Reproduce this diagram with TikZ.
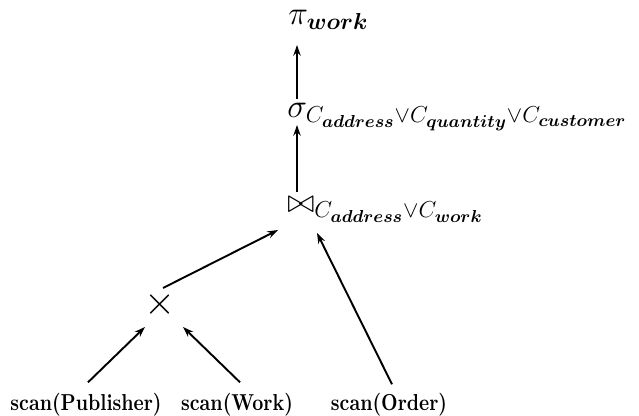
\documentclass[tikz,border=0pt]{standalone}
\usepackage{graphicx}
\usepackage{mathtools}
\usepackage{amssymb}
\usepackage{bm}
\usetikzlibrary{arrows.meta}
% math sizes used by the operator labels
\DeclareMathSizes{17.28}{17.28}{12}{9}
% attribute names in subscripts are set in bold italic
\newcommand{\attr}[1]{\bm{#1}}
% relation scans: bold, slightly tall lettering
\newcommand{\scanlabel}[1]{\scalebox{1}[1.2]{\bfseries #1}}
\begin{document}
\begin{tikzpicture}[x=0.52pt,y=-0.52pt,
  arr/.style={-{Stealth[length=5.5pt,width=3.8pt]}, line width=1pt},
  op/.style={inner sep=0pt, anchor=base west, font=\LARGE},
  leaf/.style={inner sep=0pt, anchor=base, font=\bfseries}]
\useasboundingbox (0,0) rectangle (639,416);

% operator tree, root at the top
\node[op] (proj) at (288,25) {$\pi_{\mathrlap{\attr{work}}}$};
\node[op] (sel) at (287,118) {$\sigma_{\mathrlap{C_{\attr{address}}\vee C_{\attr{quantity}}\vee C_{\attr{customer}}}}$};
\node[op] (join) at (287,213) {$\bowtie_{\mathrlap{C_{\attr{address}}\vee C_{\attr{work}}}}$};
\node[inner sep=0pt, font=\huge] (prod) at (160,305) {$\times$};

% scanned relations
\node[leaf] (pub) at (86,411) {\scanlabel{scan(Publisher)}};
\node[leaf] (wrk) at (237,411) {\scanlabel{scan(Work)}};
\node[leaf] (ord) at (389,411) {\scanlabel{scan(Order)}};

% data flow, bottom-up
\draw[arr] ([shift={(2,-11)}]pub.north) -- ([shift={(-15,22)}]prod.center);
\draw[arr] ([shift={(3,-11)}]wrk.north) -- ([shift={(23,22)}]prod.center);
\draw[arr] ([shift={(3,-17)}]prod.center) -- ([shift={(-9,17)}]join.base west);
\draw[arr] ([shift={(3,-9)}]ord.north) -- ([shift={(30,20)}]join.base west);
\draw[arr] ([shift={(10,-21)}]join.base west) -- ([shift={(10,7)}]sel.base west);
\draw[arr] ([shift={(10,-19)}]sel.base west) -- ([shift={(9,20)}]proj.base west);
\end{tikzpicture}
\end{document}
